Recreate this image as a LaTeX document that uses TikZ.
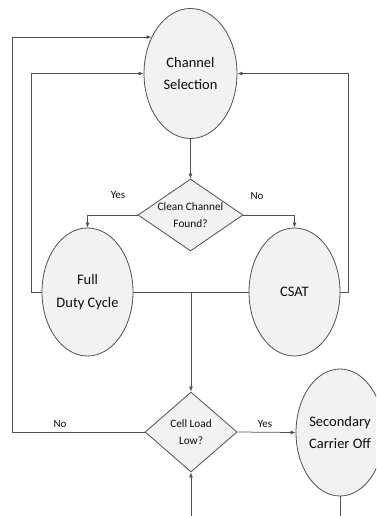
\documentclass[tikz,border=0pt]{standalone}
\usepackage{fontspec}
\setmainfont{Carlito}
\usetikzlibrary{shapes.geometric,arrows.meta,calc}
\definecolor{ln}{HTML}{505050}
\definecolor{fl}{HTML}{F2F2F2}
\definecolor{tx}{HTML}{0D0D0D}
\begin{document}
\begin{tikzpicture}[x=1pt,y=-1pt,
  line width=0.8pt,
  conn/.style={draw=ln,line width=0.75pt},
  arr/.style={conn,-{Latex[length=5pt,width=4pt]}},
  proc/.style={ellipse,draw=ln,fill=fl,inner sep=0pt,align=center,text=tx,
    font=\fontsize{14.5}{22.5}\selectfont},
  dec/.style={diamond,draw=ln,fill=fl,inner sep=0pt},
  dectext/.style={font=\fontsize{11.3}{17.5}\selectfont,align=center,text=tx},
  lbl/.style={font=\fontsize{11}{13}\selectfont,text=tx}]
\clip (0,0) rectangle (376,516);
\useasboundingbox (0,0) rectangle (376,516);
\node[proc,minimum width=93pt,minimum height=130pt] (cs) at (190.5,73.5) {Channel\\Selection};
\node[dec,minimum width=105pt,minimum height=72pt,
  label={[dectext]center:Clean Channel\\Found?}] (ccf) at (190.5,215) {};
\node[proc,minimum width=91pt,minimum height=128pt] (fdc) at (87.5,292) {Full\\Duty Cycle};
\node[proc,minimum width=91pt,minimum height=128pt] (csat) at (294.5,292) {CSAT};
\node[dec,minimum width=92pt,minimum height=80pt,
  label={[dectext]center:Cell Load\\Low?}] (cll) at (191,432) {};
\node[proc,minimum width=88pt,minimum height=127pt] (sco) at (340,432.5) {Secondary\\Carrier Off};
\coordinate (in) at (191,520);
\coordinate (out) at (340,520);
\coordinate (j) at (191,292);

\draw[arr] (cs.south) -- (ccf.north);
\draw[arr] (ccf.west) -| (fdc.north);
\draw[arr] (ccf.east) -| (csat.north);
\draw[arr] (fdc.west) -- ++(-10,0) |- (cs.west);
\draw[arr] (csat.east) -- ++(8,0) |- (cs.east);
\draw[arr] (cll.west) -- ++(-132,0) |- (cs.137);
\draw[conn] (fdc.east) -- (csat.west);
\draw[arr] (j) -- (cll.north);
\draw[arr] (in) -- (cll.south);
\draw[arr] (cll.east) -- (sco.west);
\draw[conn] (sco.south) -- (out);

\node[lbl] (y1) at (118,195) {Yes};
\node[lbl] (n1) at (257,196) {No};
\node[lbl] (n2) at (60,424) {No};
\node[lbl] (y2) at (265,424) {Yes};
\end{tikzpicture}
\end{document}
